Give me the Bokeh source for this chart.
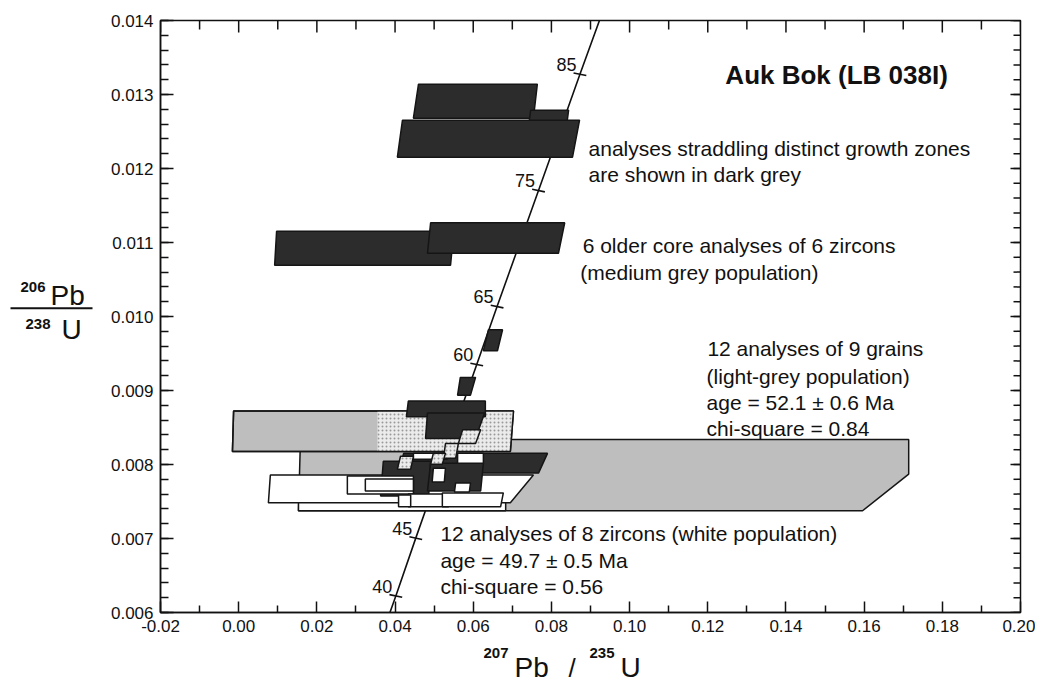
import math
from bokeh.plotting import figure
from bokeh.layouts import row, column
from bokeh.models import (ColumnDataSource, FixedTicker, NumeralTickFormatter, Range1d)
from bokeh.core.properties import value
from bokeh.embed import file_html
from bokeh.resources import INLINE

FONT = "Liberation Sans"
INK = "#111111"

# ---------------- axis ticks ----------------
x_major = [-0.02, 0.00, 0.02, 0.04, 0.06, 0.08, 0.10, 0.12, 0.14, 0.16, 0.18, 0.20]
x_minor = [-0.01, 0.01, 0.03, 0.05, 0.07, 0.09, 0.11, 0.13, 0.15, 0.17, 0.19]
y_major = [0.006, 0.007, 0.008, 0.009, 0.010, 0.011, 0.012, 0.013, 0.014]
y_minor = [round(0.006 + 0.0002 * i, 4) for i in range(41)]

# ---------------- concordia ----------------
conc_age = [38, 40, 45, 50, 55, 60, 65, 70, 75, 80, 85, 90]
conc_x = [0.0381, 0.0402, 0.0453, 0.0505, 0.0557, 0.0609, 0.0661, 0.0714,
          0.0767, 0.0820, 0.0873, 0.0927]
conc_y = [0.005912, 0.006224, 0.007005, 0.007786, 0.008568, 0.009351, 0.010134,
          0.010918, 0.011702, 0.012487, 0.013273, 0.014060]
tick_age = [40, 45, 50, 55, 60, 65, 70, 75, 80, 85]
label_age = [40, 45, 60, 65, 75, 85]

# ---------------- error boxes (drawn back to front) ----------------
box_kind = ["grey", "grey", "stipple_fill", "edge", "white", "white",
            "dark", "dark", "dark", "dark", "dark",
            "white", "white",
            "stipple", "stipple", "stipple", "stipple",
            "white", "white", "white", "white", "white", "white", "white",
            "dark", "dark",
            "dark", "dark", "dark", "dark", "dark"]
box_x = [
    [0.0158, 0.1714, 0.1714, 0.1596, 0.0153],
    [-0.0013, 0.0703, 0.0695, -0.0016],
    [0.0355, 0.0703, 0.0695, 0.0355],
    [-0.0013, 0.0703, 0.0695, -0.0016],
    [0.0153, 0.0683, 0.0683, 0.0153],
    [0.0081, 0.0754, 0.0695, 0.0076],
    [0.0434, 0.0631, 0.0631, 0.0429],
    [0.0483, 0.0629, 0.0606, 0.0478],
    [0.0422, 0.0790, 0.0767, 0.0409],
    [0.0370, 0.0491, 0.0486, 0.0363],
    [0.0491, 0.0626, 0.0619, 0.0483],
    [0.0447, 0.0534, 0.0534, 0.0447],
    [0.0560, 0.0626, 0.0626, 0.0560],
    [0.0573, 0.0619, 0.0606, 0.0562],
    [0.0529, 0.0562, 0.0555, 0.0524],
    [0.0498, 0.0529, 0.0521, 0.0491],
    [0.0414, 0.0447, 0.0440, 0.0406],
    [0.0278, 0.0447, 0.0447, 0.0278],
    [0.0324, 0.0447, 0.0447, 0.0324],
    [0.0498, 0.0529, 0.0526, 0.0495],
    [0.0555, 0.0593, 0.0590, 0.0552],
    [0.0434, 0.0537, 0.0537, 0.0434],
    [0.0409, 0.0440, 0.0440, 0.0409],
    [0.0521, 0.0677, 0.0670, 0.0521],
    [0.0639, 0.0675, 0.0662, 0.0626],
    [0.0567, 0.0606, 0.0593, 0.0560],
    [0.0460, 0.0764, 0.0754, 0.0447],
    [0.0747, 0.0844, 0.0834, 0.0737],
    [0.0419, 0.0872, 0.0854, 0.0406],
    [0.0097, 0.0550, 0.0542, 0.0092],
    [0.0491, 0.0834, 0.0818, 0.0483],
]
box_y = [
    [0.008337, 0.008337, 0.007870, 0.007375, 0.007375],
    [0.008724, 0.008724, 0.008177, 0.008177],
    [0.008724, 0.008724, 0.008177, 0.008177],
    [0.008724, 0.008724, 0.008177, 0.008177],
    [0.007602, 0.007602, 0.007375, 0.007375],
    [0.007857, 0.007857, 0.007482, 0.007482],
    [0.008857, 0.008857, 0.008644, 0.008644],
    [0.008697, 0.008697, 0.008351, 0.008351],
    [0.008151, 0.008151, 0.007884, 0.007884],
    [0.008044, 0.008044, 0.007576, 0.007576],
    [0.008017, 0.008017, 0.007643, 0.007643],
    [0.008151, 0.008151, 0.008071, 0.008071],
    [0.008151, 0.008151, 0.008017, 0.008017],
    [0.008471, 0.008471, 0.008284, 0.008284],
    [0.008284, 0.008284, 0.008084, 0.008084],
    [0.008151, 0.008151, 0.008004, 0.008004],
    [0.008111, 0.008111, 0.007937, 0.007937],
    [0.007843, 0.007843, 0.007602, 0.007602],
    [0.007803, 0.007803, 0.007643, 0.007643],
    [0.007951, 0.007951, 0.007763, 0.007763],
    [0.007750, 0.007750, 0.007630, 0.007630],
    [0.007602, 0.007602, 0.007428, 0.007428],
    [0.007589, 0.007589, 0.007428, 0.007428],
    [0.007616, 0.007616, 0.007428, 0.007428],
    [0.009821, 0.009821, 0.009537, 0.009537],
    [0.009177, 0.009177, 0.008937, 0.008937],
    [0.013139, 0.013139, 0.012680, 0.012680],
    [0.012788, 0.012788, 0.012382, 0.012382],
    [0.012653, 0.012653, 0.012153, 0.012153],
    [0.011153, 0.011153, 0.010693, 0.010693],
    [0.011267, 0.011267, 0.010855, 0.010855],
]

# ---------------- annotation texts ----------------
ann_text = ["analyses straddling distinct growth zones", "are shown in dark grey",
            "6 older core analyses of 6 zircons", "(medium grey population)",
            "12 analyses of 9 grains", "(light-grey population)",
            "age = 52.1 \u00b1 0.6 Ma", "chi-square = 0.84",
            "12 analyses of 8 zircons (white population)",
            "age  = 49.7 \u00b1 0.5 Ma", "chi-square = 0.56"]
ann_x = [0.0895, 0.0895, 0.0880, 0.0874, 0.1199, 0.1197, 0.1197, 0.1197,
         0.0516, 0.0516, 0.0516]
ann_y = [0.012270, 0.011919, 0.010959, 0.010595, 0.009568, 0.009189, 0.008838,
         0.008486, 0.007068, 0.006703, 0.006351]

STYLE = {
    "grey":         ("#bebebe", 1.0, 1.0, " "),
    "stipple_fill": ("#ebebeb", 1.0, 0.0, "."),
    "edge":         ("#ffffff", 0.0, 1.0, " "),
    "white":        ("#ffffff", 1.0, 1.0, " "),
    "stipple":      ("#ebebeb", 1.0, 1.0, "."),
    "dark":         ("#2c2c2c", 1.0, 1.0, " "),
}

LEFT_W, MAIN_W, MAIN_H, BOTTOM_H = 100, 935, 642, 42

# ================= main plot =================
p = figure(width=MAIN_W, height=MAIN_H, output_backend="svg", toolbar_location=None,
           x_range=Range1d(-0.02, 0.20), y_range=Range1d(0.006, 0.014),
           min_border_left=60, min_border_right=15, min_border_top=20,
           min_border_bottom=30)
p.xgrid.visible = False
p.ygrid.visible = False
p.background_fill_color = "white"
p.border_fill_color = "white"
p.outline_line_color = INK
p.outline_line_width = 1.5


def style_axis(ax, tin, mtin):
    ax.axis_line_color = INK
    ax.axis_line_width = 1.5
    ax.major_tick_line_color = INK
    ax.major_tick_line_width = 1.5
    ax.minor_tick_line_color = INK
    ax.minor_tick_line_width = 1.5
    ax.major_tick_in = tin
    ax.major_tick_out = 0
    ax.minor_tick_in = mtin
    ax.minor_tick_out = 0
    ax.major_label_text_font = FONT
    ax.major_label_text_font_size = "17px"
    ax.major_label_text_color = INK
    ax.major_label_standoff = 7


xa = p.xaxis[0]
xa.ticker = FixedTicker(ticks=x_major, minor_ticks=x_minor)
xa.formatter = NumeralTickFormatter(format="0.00")
style_axis(xa, 11, 7)
ya = p.yaxis[0]
ya.ticker = FixedTicker(ticks=y_major, minor_ticks=y_minor)
ya.formatter = NumeralTickFormatter(format="0.000")
style_axis(ya, 13, 8)

# inward ticks on top and right edges (outer half clipped by the frame)
top_y, right_x = y_major[-1], x_major[-1]
p.scatter(x_major, [top_y] * len(x_major), marker="dash", angle=math.pi / 2,
          size=24, line_color=INK, line_width=1.5)
p.scatter(x_minor, [top_y] * len(x_minor), marker="dash", angle=math.pi / 2,
          size=18, line_color=INK, line_width=1.5)
p.scatter([right_x] * len(y_major), y_major, marker="dash", size=20,
          line_color=INK, line_width=1.5)
p.scatter([right_x] * len(y_minor), y_minor, marker="dash", size=14,
          line_color=INK, line_width=1.5)

# concordia
p.line(conc_x, conc_y, line_color=INK, line_width=1.6)
tx = [conc_x[conc_age.index(a)] for a in tick_age]
ty = [conc_y[conc_age.index(a)] for a in tick_age]
p.scatter(tx, ty, marker="dash", size=13, angle=-0.2, line_color=INK, line_width=1.6)

LAB_DX, LAB_DY = -0.0009, 0.00013
lx = [conc_x[conc_age.index(a)] + LAB_DX for a in label_age]
ly = [conc_y[conc_age.index(a)] + LAB_DY for a in label_age]
p.text(lx, ly, text=[str(a) for a in label_age], text_font=value(FONT),
       text_font_size="18px", text_align="right", text_baseline="middle",
       text_color=INK)

# boxes
src = ColumnDataSource(dict(
    xs=box_x, ys=box_y,
    fill=[STYLE[k][0] for k in box_kind],
    falpha=[STYLE[k][1] for k in box_kind],
    lalpha=[STYLE[k][2] for k in box_kind],
    hatch=[STYLE[k][3] for k in box_kind],
))
p.patches("xs", "ys", source=src, fill_color="fill", fill_alpha="falpha",
          line_color="#151515", line_alpha="lalpha", line_width=1.5,
          hatch_pattern="hatch", hatch_color="#9a9a9a", hatch_scale=4,
          hatch_weight=1.0)

p.text("x", "y", text="text",
       source=ColumnDataSource(dict(x=ann_x, y=ann_y, text=ann_text)),
       text_font=value(FONT), text_font_size="21px", text_align="left",
       text_baseline="middle", text_color=INK)
p.text([0.1245], [0.013257], text=["Auk Bok (LB 038I)"], text_font=value(FONT),
       text_font_size="26px", text_font_style="bold", text_align="left",
       text_baseline="middle", text_color=INK)


# ================= side panels for axis titles =================
def panel(w, h):
    f = figure(width=w, height=h, output_backend="svg", toolbar_location=None,
               x_range=Range1d(0, w), y_range=Range1d(h, 0),
               x_axis_type=None, y_axis_type=None, min_border=0)
    f.outline_line_color = None
    f.xgrid.visible = False
    f.ygrid.visible = False
    f.background_fill_color = "white"
    f.border_fill_color = "white"
    return f


def txt(f, x, y, t, size, bold=False):
    f.text([x], [y], text=[t], text_font=value(FONT), text_font_size=size,
           text_font_style="bold" if bold else "normal", text_align="left",
           text_baseline="middle", text_color=INK)


left = panel(LEFT_W, MAIN_H)
txt(left, 20, 289, "206", "15px", True)
txt(left, 50, 298, "Pb", "28px")
left.segment([10], [312], [92], [312], line_color=INK, line_width=2)
txt(left, 25, 329, "238", "15px", True)
txt(left, 61, 335, "U", "28px")

bottom = panel(LEFT_W + MAIN_W, BOTTOM_H)
txt(bottom, 483, 10, "207", "15px", True)
txt(bottom, 514, 25, "Pb", "28px")
txt(bottom, 568, 25, "/", "26px")
txt(bottom, 589, 10, "235", "15px", True)
txt(bottom, 620, 25, "U", "28px")

layout = column(row(left, p, spacing=0), bottom, spacing=0)
open("out.html", "w").write(file_html(layout, INLINE))
